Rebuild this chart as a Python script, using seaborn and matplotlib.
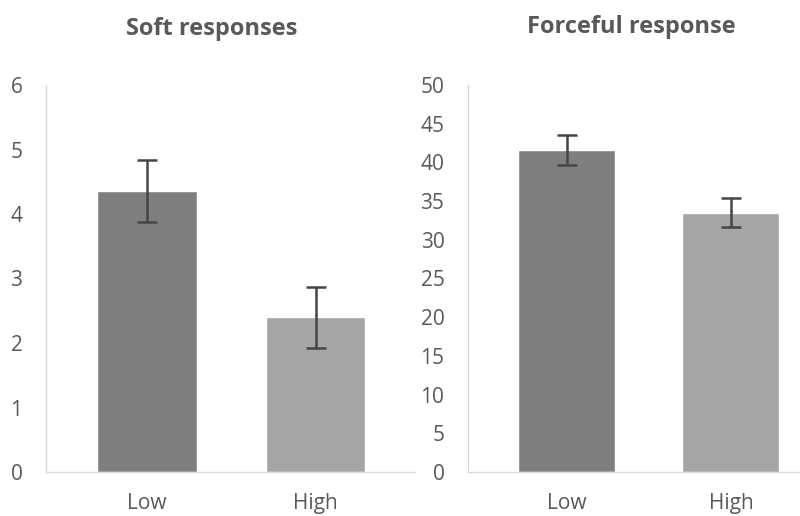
import matplotlib
matplotlib.use("Agg")
import matplotlib.pyplot as plt
import seaborn as sns
import pandas as pd

categories = ["Low", "High"]
soft_values = [4.36, 2.40]
soft_err = [0.48, 0.47]
force_values = [41.6, 33.5]
force_err = [1.9, 1.85]
soft_ticks = [0, 1, 2, 3, 4, 5, 6]
force_ticks = list(range(0, 51, 5))
titles = ["Soft responses", "Forceful response"]

sns.set_theme(style="white")
plt.rcParams['font.family'] = ['Open Sans', 'DejaVu Sans']

bar_colors = ["#7f7f7f", "#a5a5a5"]
text_color = "#595959"
spine_color = "#d3d9df"

fig = plt.figure(figsize=(8, 5.16), dpi=100)
ax1 = fig.add_axes([46/800, 1-472/516, (415-46)/800, (472-85)/516])
ax2 = fig.add_axes([468/800, 1-472/516, (800-468)/800, (472-85)/516])

def draw(ax, vals, errs, ticks, xlim):
    df = pd.DataFrame({"cat": categories, "val": vals})
    sns.barplot(data=df, x="cat", y="val", hue="cat", palette=bar_colors,
                width=0.59, ax=ax, legend=False, saturation=1)
    ax.errorbar(range(len(vals)), vals, yerr=errs, fmt="none",
                ecolor="#454545", elinewidth=1.8, capsize=7, capthick=1.8)
    ax.set_ylim(ticks[0], ticks[-1])
    ax.set_yticks(ticks)
    ax.set_xlim(*xlim)
    ax.set_xlabel("")
    ax.set_ylabel("")
    for s in ["top", "right"]:
        ax.spines[s].set_visible(False)
    for s in ["left", "bottom"]:
        ax.spines[s].set_color(spine_color)
        ax.spines[s].set_linewidth(1.0)
    ax.tick_params(axis="y", length=0, pad=17, labelsize=15, labelcolor=text_color)
    ax.tick_params(axis="x", length=0, pad=15, labelsize=15, labelcolor=text_color)

draw(ax1, soft_values, soft_err, soft_ticks, (-0.6, 1.59))
draw(ax2, force_values, force_err, force_ticks, (-0.6, 1.42))

fig.text(212/800, 1-29/516, titles[0], ha="center", va="center",
         fontsize=17, fontweight="bold", color=text_color)
fig.text(631/800, 1-27/516, titles[1], ha="center", va="center",
         fontsize=17, fontweight="bold", color=text_color)

fig.savefig("out.png", dpi=100, facecolor="white")
